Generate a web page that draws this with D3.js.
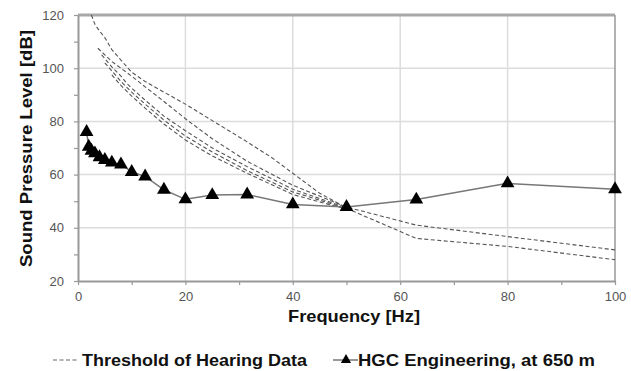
<!DOCTYPE html>
<html>
<head>
    <title>Sound Pressure Level vs Frequency</title>
    <script src="https://d3js.org/d3.v7.min.js"></script>
    <style>
        body { margin: 0; background: #fff; }
        text { font-family: "Liberation Sans", Arial, sans-serif; }
    </style>
</head>
<body>
    <div id="chart"></div>
    <script>
        // HGC Engineering measurement, 1/3 octave bands
        var hgcFreq = [1.6, 2, 2.5, 3.15, 4, 5, 6.3, 8, 10, 12.5, 16, 20, 25, 31.5, 40, 50, 63, 80, 100];
        var hgcLevel = [76, 70.5, 69, 68, 66.5, 65.5, 64.5, 63.8, 61, 59.3, 54.3, 50.7, 52.3, 52.5, 48.8, 47.8, 50.6, 56.7, 54.5];

        // threshold of hearing curves [Hz, dB]
        var thresholdA = [[2.5, 120], [3.15, 116.5], [4, 114], [5, 111.5], [6.3, 107], [8, 103], [10, 98.5], [12.5, 95], [16, 91], [20, 86.5], [25, 80.3], [31.5, 72.3], [36, 66.5], [40, 60.5], [45, 53], [50, 47.5]];
        var thresholdB = [[3.7, 107.5], [5, 105], [6.3, 102.5], [8, 100], [10, 97], [12.5, 93], [16, 87.5], [20, 81], [25, 73.5], [31.5, 65], [40, 56], [50, 47.8], [63, 41], [80, 36.7], [100, 31.7]];
        var thresholdC = [[4.4, 105], [6.3, 100.5], [8, 97], [9, 94.5], [10, 92.5], [12.5, 88], [16, 82], [20, 76.5], [25, 70], [31.5, 63], [40, 54.5], [50, 47.5]];
        var thresholdD = [[5, 102], [6.3, 99], [8, 95], [10, 91], [12.5, 86.5], [16, 80.5], [20, 74.5], [25, 68.5], [31.5, 61.5], [40, 53.5], [50, 47.3], [63, 36], [80, 33], [100, 28]];
        var thresholdE = [[6.3, 97.5], [8, 93.5], [10, 89.5], [12.5, 85], [16, 79], [20, 73], [25, 67], [31.5, 60.5], [40, 52.5], [50, 47]];
        var thresholdCurves = [thresholdA, thresholdB, thresholdC, thresholdD, thresholdE];

        var xTicks = [0, 20, 40, 60, 80, 100];
        var yTicks = [20, 40, 60, 80, 100, 120];

        var margin = { top: 15, right: 16, bottom: 90, left: 78 },
            width = 631 - margin.left - margin.right,
            height = 371 - margin.top - margin.bottom;

        var root = d3.select("#chart")
            .append("svg")
            .attr("width", 631)
            .attr("height", 371);

        var svg = root.append("g")
            .attr("transform", "translate(" + margin.left + "," + margin.top + ")");

        var x = d3.scaleLinear().domain([0, 100]).range([0, width]);
        var y = d3.scaleLinear().domain([20, 120]).range([height, 0]);

        // gridlines
        svg.append("g")
            .selectAll("line.hgrid")
            .data(yTicks.slice(1, -1))
            .enter().append("line")
            .attr("x1", 0).attr("x2", width)
            .attr("y1", function (d) { return y(d); })
            .attr("y2", function (d) { return y(d); })
            .style("stroke", "#dcdcdc")
            .style("stroke-width", 1.5);

        svg.append("g")
            .selectAll("line.vgrid")
            .data(xTicks.slice(1, -1))
            .enter().append("line")
            .attr("y1", 0).attr("y2", height)
            .attr("x1", function (d) { return x(d); })
            .attr("x2", function (d) { return x(d); })
            .style("stroke", "#dcdcdc")
            .style("stroke-width", 1.5);

        // top and right border
        svg.append("line")
            .attr("x1", 0).attr("x2", width).attr("y1", 0).attr("y2", 0)
            .style("stroke", "#a8a8a8").style("stroke-width", 3);
        svg.append("line")
            .attr("x1", width).attr("x2", width).attr("y1", 0).attr("y2", height)
            .style("stroke", "#999").style("stroke-width", 1.5);

        // axes
        svg.append("g")
            .attr("transform", "translate(0," + height + ")")
            .call(d3.axisBottom(x).tickValues(xTicks).tickSize(4).tickPadding(7).tickSizeOuter(0));
        svg.append("g")
            .attr("transform", "translate(0," + height + ")")
            .call(d3.axisBottom(x).tickValues(d3.range(10, 100, 20)).tickSize(4).tickFormat("").tickSizeOuter(0))
            .select(".domain").remove();

        svg.append("g")
            .call(d3.axisLeft(y).tickValues(yTicks).tickSize(4).tickPadding(10).tickSizeOuter(0));
        svg.append("g")
            .call(d3.axisLeft(y).tickValues(d3.range(30, 120, 20)).tickSize(4).tickFormat("").tickSizeOuter(0))
            .select(".domain").remove();

        svg.selectAll(".domain").style("stroke", "#999").style("stroke-width", 2);
        svg.selectAll(".tick line").style("stroke", "#999").style("stroke-width", 1.2);
        svg.selectAll(".tick text")
            .style("font-size", "13px")
            .style("fill", "#555")
            .style("font-family", "'Liberation Sans', Arial, sans-serif");

        // threshold curves
        var line = d3.line()
            .x(function (d) { return x(d[0]); })
            .y(function (d) { return y(d[1]); });

        svg.append("g")
            .selectAll("path.thr")
            .data(thresholdCurves)
            .enter().append("path")
            .attr("d", line)
            .style("fill", "none")
            .style("stroke", "#555")
            .style("stroke-width", 1.1)
            .style("stroke-dasharray", "4,2.5");

        // HGC line + markers
        var hgc = hgcFreq.map(function (f, i) { return [f, hgcLevel[i]]; });
        svg.append("path")
            .datum(hgc)
            .attr("d", line)
            .style("fill", "none")
            .style("stroke", "#777")
            .style("stroke-width", 1.5);

        var tri = d3.symbol().type(d3.symbolTriangle).size(82);
        svg.append("g")
            .selectAll("path.tri")
            .data(hgc)
            .enter().append("path")
            .attr("d", tri)
            .attr("transform", function (d) { return "translate(" + x(d[0]) + "," + y(d[1]) + ")"; })
            .style("fill", "#000");

        // axis titles
        root.append("text")
            .attr("x", 288)
            .attr("y", 322)
            .attr("textLength", 132)
            .attr("lengthAdjust", "spacingAndGlyphs")
            .style("font-size", "17px")
            .style("font-weight", "bold")
            .style("fill", "#111")
            .text("Frequency [Hz]");

        root.append("text")
            .attr("transform", "translate(32,267) rotate(-90)")
            .attr("textLength", 237)
            .attr("lengthAdjust", "spacingAndGlyphs")
            .style("font-size", "17px")
            .style("font-weight", "bold")
            .style("fill", "#111")
            .text("Sound Pressure Level [dB]");

        // legend
        var legend = root.append("g");
        legend.append("line")
            .attr("x1", 53).attr("x2", 78).attr("y1", 360).attr("y2", 360)
            .style("stroke", "#666").style("stroke-width", 1.1)
            .style("stroke-dasharray", "4,2.5");
        legend.append("text")
            .attr("x", 82).attr("y", 366)
            .attr("textLength", 225)
            .attr("lengthAdjust", "spacingAndGlyphs")
            .style("font-size", "17px")
            .style("font-weight", "bold")
            .style("fill", "#111")
            .text("Threshold of Hearing Data");

        legend.append("line")
            .attr("x1", 333).attr("x2", 358).attr("y1", 360).attr("y2", 360)
            .style("stroke", "#777").style("stroke-width", 1.5);
        legend.append("path")
            .attr("d", d3.symbol().type(d3.symbolTriangle).size(45))
            .attr("transform", "translate(346,360)")
            .style("fill", "#000");
        legend.append("text")
            .attr("x", 358).attr("y", 366)
            .attr("textLength", 237)
            .attr("lengthAdjust", "spacingAndGlyphs")
            .style("font-size", "17px")
            .style("font-weight", "bold")
            .style("fill", "#111")
            .text("HGC Engineering, at 650 m");
    </script>
</body>
</html>
